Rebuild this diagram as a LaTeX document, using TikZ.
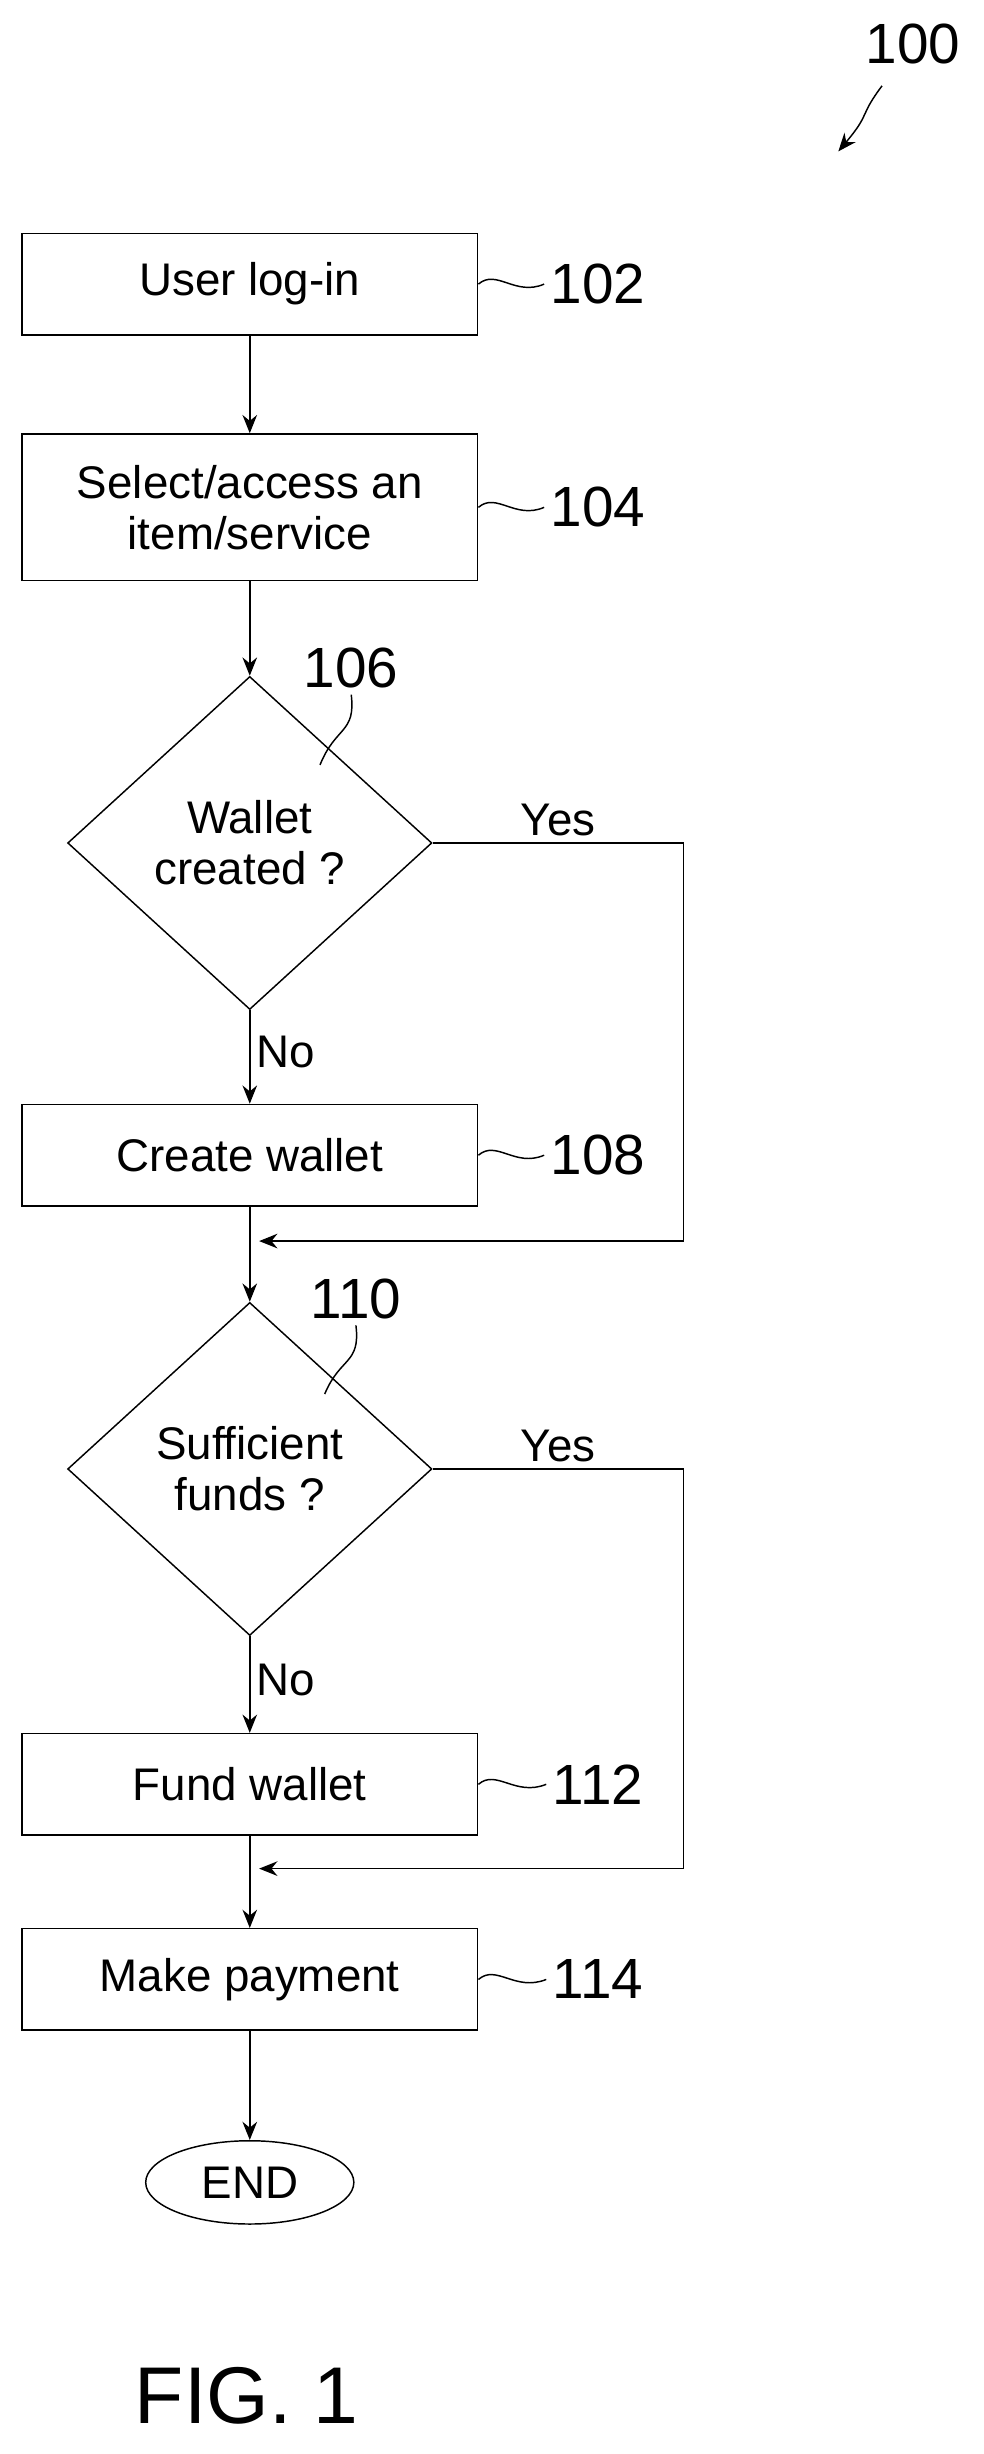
\documentclass[tikz,border=0pt]{standalone}
\usepackage{fontspec}
\setmainfont{Liberation Sans}
\usetikzlibrary{positioning,calc,arrows.meta,shapes.geometric}

\tikzset{
  stepbox/.style={draw,thick,minimum width=8.76cm,minimum height=1.95cm,font=\fontsize{25}{28}\selectfont,align=center},
  test/.style={draw,thick,diamond,minimum width=7cm,minimum height=6.4cm,inner sep=0pt,font=\fontsize{25}{28}\selectfont,align=center},
  lbl/.style={font=\fontsize{31}{34}\selectfont},
  yn/.style={font=\fontsize{25}{28}\selectfont},
  flow/.style={thick,-{Stealth[length=10pt,width=8pt]}},
  lead/.style={thick}
}

\begin{document}
\begin{tikzpicture}[x=0.03cm,y=-0.03cm]
		\useasboundingbox (0,0) rectangle (630,1572);
		
		% reference numeral of the figure
		\node[lbl] (n100) at (585,28) {100};
		\coordinate (a100) at (565,55);
		\coordinate (b100) at (537,97);
		\draw[flow] (a100) .. controls (550,75) and (558,72) .. (b100);
		
		% steps
		\node[stepbox] (s102) at (160,182) {User log-in};
		\node[stepbox,minimum height=2.82cm] (s104) at (160,325) {Select/access an\\item/service};
		\node[test] (s106) at (160,540) {Wallet\\created ?};
		\node[stepbox] (s108) at (160,740) {Create wallet};
		\node[test] (s110) at (160,941) {Sufficient\\funds ?};
		\node[stepbox] (s112) at (160,1143) {Fund wallet};
		\node[stepbox] (s114) at (160,1268) {Make payment};
		\node[draw,thick,ellipse,minimum width=4cm,minimum height=1.6cm,font=\fontsize{25}{28}\selectfont] (send) at (160,1398) {END};
		
		% flow
		\draw[flow] (s102) -- (s104);
		\draw[flow] (s104) -- (s106);
		\draw[flow] (s106) -- node[yn,right,pos=0.45] {No} (s108);
		\draw[flow] (s108) -- (s110);
		\draw[flow] (s110) -- node[yn,right,pos=0.45] {No} (s112);
		\draw[flow] (s112) -- (s114);
		\draw[flow] (s114) -- (send);
		
		\coordinate (j1) at (160,795);
		\coordinate (j2) at (160,1197);
		\draw[flow] (s106.east) -- node[yn,above,pos=0.5] {Yes} (438,540) -- (438,795) -- ($(j1)+(6,0)$);
		\draw[flow] (s110.east) -- node[yn,above,pos=0.5] {Yes} (438,941) -- (438,1197) -- ($(j2)+(6,0)$);
		
		% numerals with leaders
		\foreach \n/\y in {102/182,104/325,108/740,112/1143,114/1268}{
			\node[lbl] (l\n) at (383,\y) {\n};
			\draw[lead] (s\n.east) .. controls (318,\y-10) and (330,\y+8) .. (l\n.west);
		}
		\node[lbl] (l106) at (225,428) {106};
		\draw[lead] (l106.south) .. controls (228,470) and (215,465) .. (205,490);
		\node[lbl] (l110) at (228,832) {110};
		\draw[lead] (l110.south) .. controls (231,874) and (218,869) .. (208,893);
		
		\node[font=\fontsize{44}{48}\selectfont] (fig) at (158,1535) {FIG. 1};
\end{tikzpicture}
\end{document}
